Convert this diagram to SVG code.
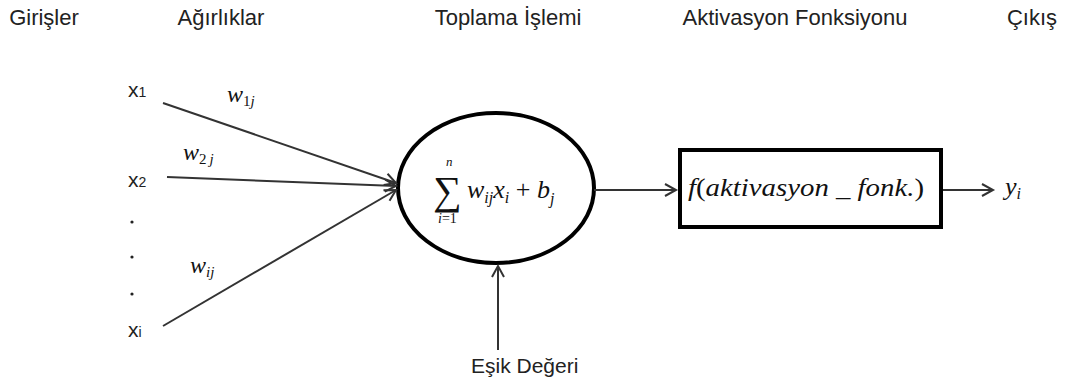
<svg xmlns="http://www.w3.org/2000/svg" width="1065" height="389" viewBox="0 0 1065 389">
<defs>
<style>
.hdr{font-family:"Liberation Sans",Arial,sans-serif;font-size:22px;fill:#222;text-anchor:middle}
.lbl{font-family:"Liberation Sans",Arial,sans-serif;font-size:21px;fill:#222}
.m{font-family:"Liberation Serif","Times New Roman",serif;font-style:italic;fill:#111}
.up{font-style:normal}
.conn{stroke:#333;stroke-width:2;fill:none}
</style>
<marker id="arr" markerUnits="userSpaceOnUse" markerWidth="16" markerHeight="16" refX="12" refY="7" orient="auto">
<path d="M1,1 L12,7 L1,13" fill="none" stroke="#333" stroke-width="2"/>
</marker>
</defs>
<rect width="1065" height="389" fill="#fff"/>
<g id="headers">
<text class="hdr" x="44" y="25">Girişler</text>
<text class="hdr" x="221" y="25">Ağırlıklar</text>
<text class="hdr" x="508" y="25">Toplama İşlemi</text>
<text class="hdr" x="795" y="25">Aktivasyon Fonksiyonu</text>
<text class="hdr" x="1032" y="25">Çıkış</text>
</g>
<g id="input-x1"><text class="lbl" x="128" y="97">x<tspan font-size="14">1</tspan></text></g>
<g id="input-x2"><text class="lbl" x="128" y="187">x<tspan font-size="14">2</tspan></text></g>
<g id="input-dots">
<circle cx="132" cy="222" r="1.6" fill="#222"/>
<circle cx="132" cy="257" r="1.6" fill="#222"/>
<circle cx="132" cy="294" r="1.6" fill="#222"/>
</g>
<g id="input-xi"><text class="lbl" x="128" y="337">x<tspan font-size="14">i</tspan></text></g>
<g id="weights">
<text class="m" x="227" y="102" font-size="24">w<tspan class="up" font-size="15" dy="4">1</tspan><tspan font-size="15">j</tspan></text>
<text class="m" x="183" y="160" font-size="24">w<tspan class="up" font-size="15" dy="4">2</tspan><tspan font-size="15" dx="3">j</tspan></text>
<text class="m" x="190" y="273" font-size="24">w<tspan font-size="15" dy="4">ij</tspan></text>
</g>
<g id="sum-node">
<ellipse cx="496" cy="188" rx="98" ry="75" fill="#fff" stroke="#000" stroke-width="4"/>
<text class="m up" x="433" y="204" font-size="40" font-style="normal">∑</text>
<text class="m" x="446" y="166" font-size="13">n</text>
<text class="m" x="438" y="223" font-size="14">i<tspan class="up">=1</tspan></text>
<text class="m" x="467" y="198" font-size="26">w<tspan font-size="16" dy="5">ij</tspan><tspan dy="-5">x</tspan><tspan font-size="16" dy="5">i</tspan><tspan class="up" dy="-5"> + </tspan>b<tspan font-size="16" dy="6">j</tspan></text>
</g>
<g id="activation-node">
<rect x="680" y="150" width="261" height="77" fill="#fff" stroke="#000" stroke-width="4"/>
<text class="m" x="688" y="196" font-size="25" textLength="236" lengthAdjust="spacingAndGlyphs">f<tspan class="up">(</tspan>aktivasyon _ fonk.<tspan class="up">)</tspan></text>
</g>
<g id="output"><text class="m" x="1005" y="195" font-size="26">y<tspan font-size="16" dy="4">i</tspan></text></g>
<g id="bias"><text class="lbl" x="471" y="373">Eşik Değeri</text></g>
<g id="connectors">
<line class="conn" x1="163" y1="103" x2="396" y2="183" marker-end="url(#arr)"/>
<line class="conn" x1="167" y1="177" x2="396" y2="186" marker-end="url(#arr)"/>
<line class="conn" x1="163" y1="326" x2="396" y2="190" marker-end="url(#arr)"/>
<line class="conn" x1="594" y1="190" x2="676" y2="190" marker-end="url(#arr)"/>
<line class="conn" x1="943" y1="190" x2="993" y2="190" marker-end="url(#arr)"/>
<line class="conn" x1="498" y1="350" x2="498" y2="266" marker-end="url(#arr)"/>
</g>
</svg>
